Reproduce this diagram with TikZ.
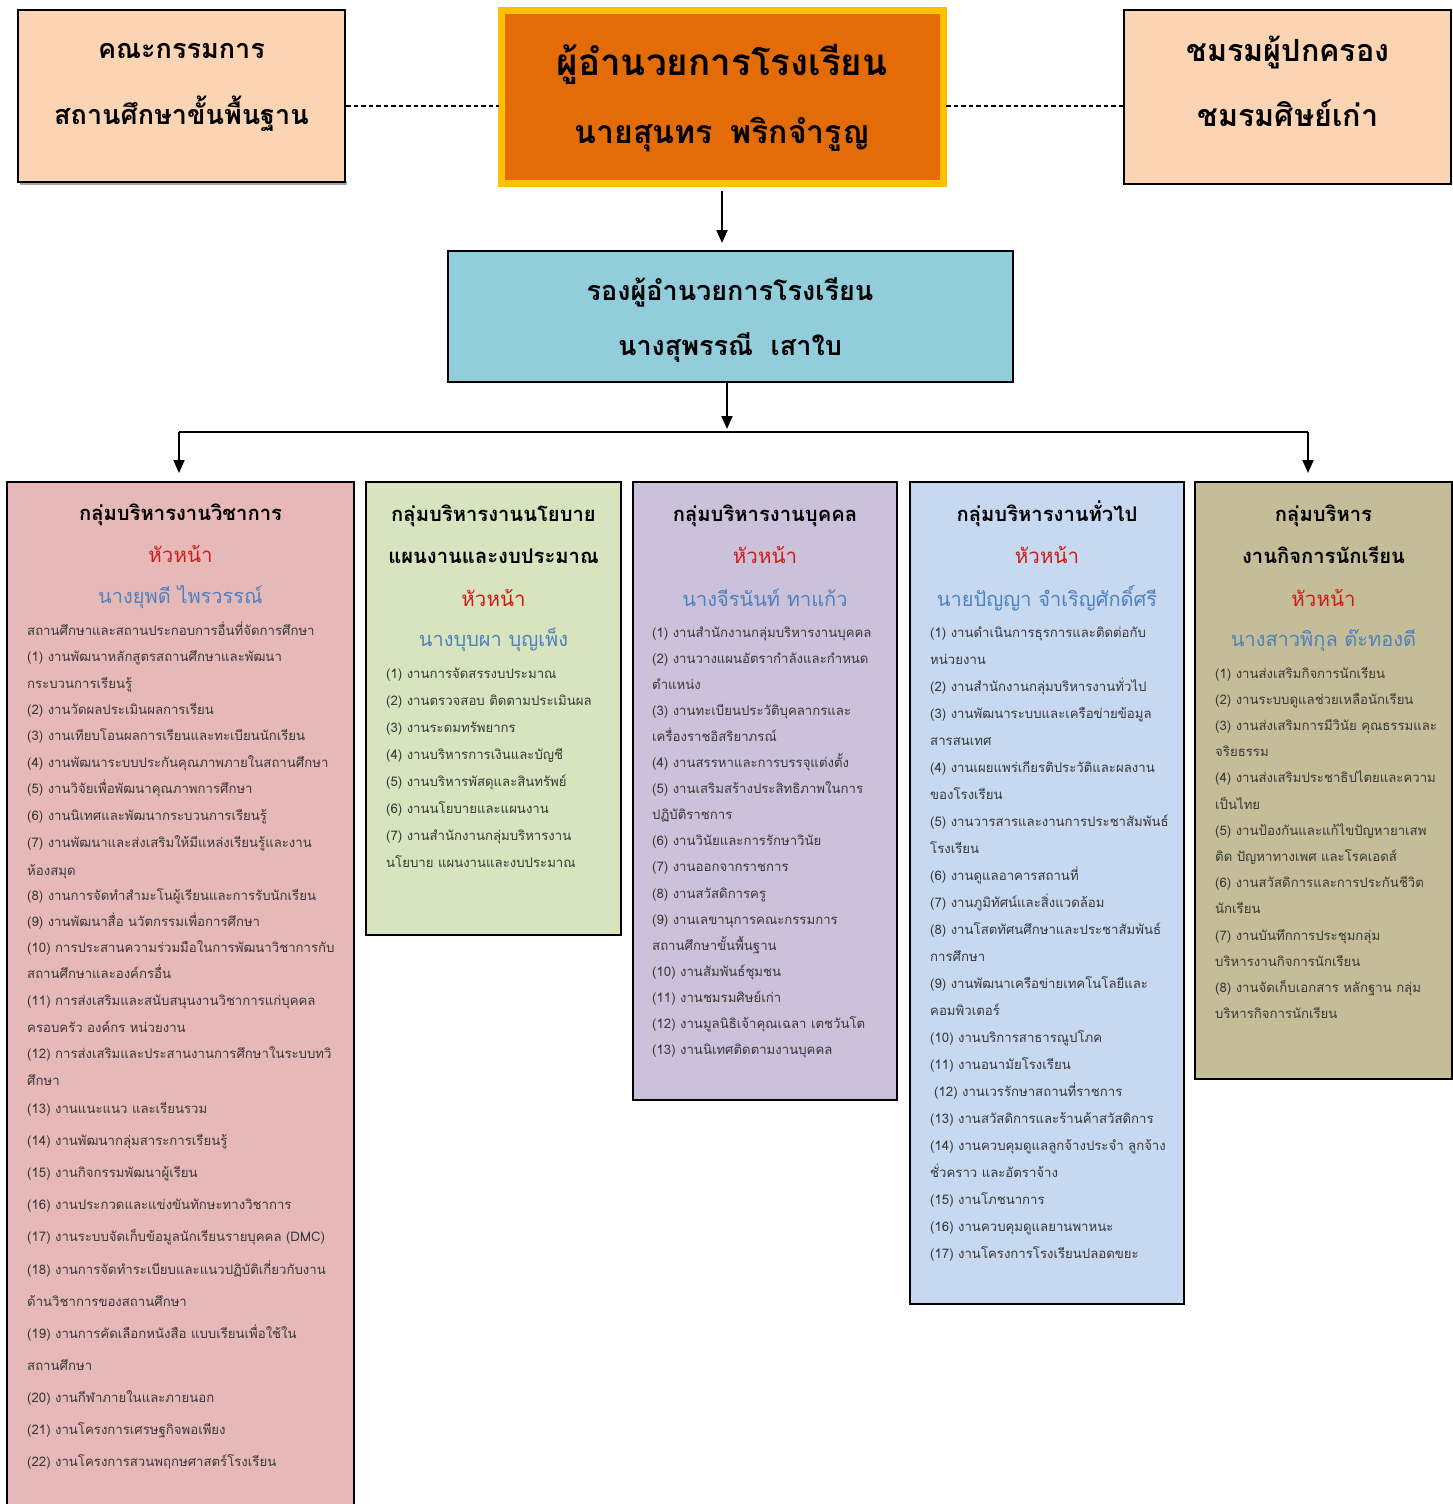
\documentclass[tikz,border=0pt]{standalone}
\usepackage{fontspec}
\setmainfont[Script=Thai]{Loma}
\usetikzlibrary{arrows.meta}
\definecolor{peach}{HTML}{FBD4B4}
\definecolor{bossor}{HTML}{E36C09}
\definecolor{bossyl}{HTML}{FFC000}
\definecolor{depblue}{HTML}{92CDDC}
\definecolor{cA}{HTML}{E6B9B8}
\definecolor{cB}{HTML}{D7E4BD}
\definecolor{cC}{HTML}{CCC1DA}
\definecolor{cD}{HTML}{C6D9F1}
\definecolor{cE}{HTML}{C4BD97}
\definecolor{headred}{HTML}{D01A1A}
\definecolor{nameblue}{HTML}{4F81BD}
\definecolor{itemgrey}{HTML}{383838}
\begin{document}
\begin{tikzpicture}[x=1pt,y=-1pt,
  box/.style={draw=black, line width=1.6pt, inner sep=0pt},
  toptxt/.style={anchor=base, font=\fontsize{27}{32}\selectfont\bfseries, inner sep=0pt},
  toptxtR/.style={anchor=base, font=\fontsize{30.5}{34}\selectfont\bfseries, inner sep=0pt},
  bosstxt/.style={anchor=base, font=\fontsize{36.8}{40}\selectfont\bfseries, inner sep=0pt},
  bossname/.style={anchor=base, font=\fontsize{32}{36}\selectfont\bfseries, inner sep=0pt},
  deptxt/.style={anchor=base, font=\fontsize{27}{32}\selectfont\bfseries, inner sep=0pt},
  headtxt/.style={anchor=base, font=\fontsize{20.2}{24}\selectfont\bfseries, inner sep=0pt},
  chieftxt/.style={anchor=base, text=headred, font=\fontsize{20.5}{24}\selectfont, inner sep=0pt},
  nametxt/.style={anchor=base, text=nameblue, font=\fontsize{20}{24}\selectfont, inner sep=0pt},
  item/.style={anchor=base west, text=itemgrey, font=\fontsize{13.2}{15}\selectfont, inner sep=0pt},
  arr/.style={line width=2pt, -{Triangle[width=11pt,length=13pt]}},
  link/.style={line width=2pt, dash pattern=on 4.5pt off 3pt}
]
\useasboundingbox (0,0) rectangle (1453,1504);
\fill[white] (0,0) rectangle (1453,1504);

% ---------- top row ----------
\fill[gray!70] (20,181) rectangle (347,185);
\node[box, fill=peach, minimum width=327pt, minimum height=172pt] (board) at (181.5,96) {};
\node[box, draw=bossyl, line width=7.5pt, fill=bossor, minimum width=442pt, minimum height=173pt] (boss) at (722.5,97) {};
\node[box, fill=peach, minimum width=327pt, minimum height=174pt] (parents) at (1287.5,97) {};

\node[toptxt] (board1) at (181.5,59) {คณะกรรมการ};
\node[toptxt] (board2) at (181.5,124) {สถานศึกษาขั้นพื้นฐาน};
\node[bosstxt] (boss1) at (722,75) {ผู้อำนวยการโรงเรียน};
\node[bossname] (boss2) at (722,143) {นายสุนทร\hspace{0.55em}พริกจำรูญ};
\node[toptxtR] (par1) at (1288,62) {ชมรมผู้ปกครอง};
\node[toptxtR] (par2) at (1288,126) {ชมรมศิษย์เก่า};

\coordinate (dl1) at (346,106);
\coordinate (dl2) at (499,106);
\coordinate (dr1) at (946,106);
\coordinate (dr2) at (1123,106);
\draw[link] (dl1) -- (dl2);
\draw[link] (dr1) -- (dr2);

% ---------- deputy ----------
\node[box, fill=depblue, minimum width=565pt, minimum height=131pt] (dep) at (730.5,316.5) {};
\node[deptxt] (dep1) at (730,300) {รองผู้อำนวยการโรงเรียน};
\node[deptxt] (dep2) at (730,355) {นางสุพรรณี\hspace{0.65em}เสาใบ};

\coordinate (a1s) at (722,191);
\coordinate (a1e) at (722,243);
\draw[arr] (a1s) -- (a1e);
\coordinate (a2s) at (727,383);
\coordinate (a2e) at (727,429);
\draw[arr] (a2s) -- (a2e);

\coordinate (busL) at (179,432);
\coordinate (busR) at (1308,432);
\draw[line width=2pt] (busL) -- (busR);
\coordinate (busLe) at (179,473);
\coordinate (busRe) at (1308,473);
\draw[arr] (busL) -- (busLe);
\draw[arr] (busR) -- (busRe);

% ---------- group boxes ----------
\node[box, fill=cA, minimum width=347pt, minimum height=1040pt, anchor=north] (gA) at (180.5,481) {};
\node[box, fill=cB, minimum width=255pt, minimum height=453pt, anchor=north] (gB) at (493.5,481) {};
\node[box, fill=cC, minimum width=264pt, minimum height=618pt, anchor=north] (gC) at (765,481) {};
\node[box, fill=cD, minimum width=274pt, minimum height=822pt, anchor=north] (gD) at (1047,481) {};
\node[box, fill=cE, minimum width=257pt, minimum height=597pt, anchor=north] (gE) at (1323.5,481) {};

% group A
\node[headtxt] (hA) at (180.5,520) {กลุ่มบริหารงานวิชาการ};
\node[chieftxt] (cAh) at (180.5,562) {หัวหน้า};
\node[nametxt] (nA) at (180.5,603) {นางยุพดี ไพรวรรณ์};
\foreach \y/\t [count=\i] in {
630/สถานศึกษาและสถานประกอบการอื่นที่จัดการศึกษา,
656/(1) งานพัฒนาหลักสูตรสถานศึกษาและพัฒนา,
683/กระบวนการเรียนรู้,
709/(2) งานวัดผลประเมินผลการเรียน,
735/(3) งานเทียบโอนผลการเรียนและทะเบียนนักเรียน,
762/(4) งานพัฒนาระบบประกันคุณภาพภายในสถานศึกษา,
788/(5) งานวิจัยเพื่อพัฒนาคุณภาพการศึกษา,
815/(6) งานนิเทศและพัฒนากระบวนการเรียนรู้,
842/(7) งานพัฒนาและส่งเสริมให้มีแหล่งเรียนรู้และงาน,
870/ห้องสมุด,
895/(8) งานการจัดทำสำมะโนผู้เรียนและการรับนักเรียน,
921/(9) งานพัฒนาสื่อ นวัตกรรมเพื่อการศึกษา,
947/(10) การประสานความร่วมมือในการพัฒนาวิชาการกับ,
973/สถานศึกษาและองค์กรอื่น,
1000/(11) การส่งเสริมและสนับสนุนงานวิชาการแก่บุคคล,
1027/ครอบครัว องค์กร หน่วยงาน,
1053/(12) การส่งเสริมและประสานงานการศึกษาในระบบทวิ,
1080/ศึกษา,
1108/(13) งานแนะแนว และเรียนรวม,
1140/(14) งานพัฒนากลุ่มสาระการเรียนรู้,
1172/(15) งานกิจกรรมพัฒนาผู้เรียน,
1204/(16) งานประกวดและแข่งขันทักษะทางวิชาการ,
1236/(17) งานระบบจัดเก็บข้อมูลนักเรียนรายบุคคล (DMC),
1269/(18) งานการจัดทำระเบียบและแนวปฏิบัติเกี่ยวกับงาน,
1301/ด้านวิชาการของสถานศึกษา,
1333/(19) งานการคัดเลือกหนังสือ แบบเรียนเพื่อใช้ใน,
1365/สถานศึกษา,
1397/(20) งานกีฬาภายในและภายนอก,
1429/(21) งานโครงการเศรษฐกิจพอเพียง,
1461/(22) งานโครงการสวนพฤกษศาสตร์โรงเรียน}
  \node[item] (iA\i) at (27,\y+5) {\t};

% group B
\node[headtxt] (hB1) at (493.5,521) {กลุ่มบริหารงานนโยบาย};
\node[headtxt] (hB2) at (493.5,563) {แผนงานและงบประมาณ};
\node[chieftxt] (cBh) at (493.5,606) {หัวหน้า};
\node[nametxt] (nB) at (493.5,646) {นางบุบผา บุญเพ็ง};
\foreach \t [count=\i from 0] in {
(1) งานการจัดสรรงบประมาณ,
(2) งานตรวจสอบ ติดตามประเมินผล,
(3) งานระดมทรัพยากร,
(4) งานบริหารการเงินและบัญชี,
(5) งานบริหารพัสดุและสินทรัพย์,
(6) งานนโยบายและแผนงาน,
(7) งานสำนักงานกลุ่มบริหารงาน,
นโยบาย แผนงานและงบประมาณ}
  \node[item] (iB\i) at (386,678+27*\i) {\t};

% group C
\node[headtxt] (hC) at (765,521) {กลุ่มบริหารงานบุคคล};
\node[chieftxt] (cCh) at (765,563) {หัวหน้า};
\node[nametxt] (nC) at (765,606) {นางจีรนันท์ ทาแก้ว};
\foreach \t [count=\i from 0] in {
(1) งานสำนักงานกลุ่มบริหารงานบุคคล,
(2) งานวางแผนอัตรากำลังและกำหนด,
ตำแหน่ง,
(3) งานทะเบียนประวัติบุคลากรและ,
เครื่องราชอิสริยาภรณ์,
(4) งานสรรหาและการบรรจุแต่งตั้ง,
(5) งานเสริมสร้างประสิทธิภาพในการ,
ปฏิบัติราชการ,
(6) งานวินัยและการรักษาวินัย,
(7) งานออกจากราชการ,
(8) งานสวัสดิการครู,
(9) งานเลขานุการคณะกรรมการ,
สถานศึกษาขั้นพื้นฐาน,
(10) งานสัมพันธ์ชุมชน,
(11) งานชมรมศิษย์เก่า,
(12) งานมูลนิธิเจ้าคุณเฉลา เตชวันโต,
(13) งานนิเทศติดตามงานบุคคล}
  \node[item] (iC\i) at (652,637+26.1*\i) {\t};

% group D
\node[headtxt] (hD) at (1047,521) {กลุ่มบริหารงานทั่วไป};
\node[chieftxt] (cDh) at (1047,563) {หัวหน้า};
\node[nametxt] (nD) at (1047,606) {นายปัญญา จำเริญศักดิ์ศรี};
\foreach \t [count=\i from 0] in {
(1) งานดำเนินการธุรการและติดต่อกับ,
หน่วยงาน,
(2) งานสำนักงานกลุ่มบริหารงานทั่วไป,
(3) งานพัฒนาระบบและเครือข่ายข้อมูล,
สารสนเทศ,
(4) งานเผยแพร่เกียรติประวัติและผลงาน,
ของโรงเรียน,
(5) งานวารสารและงานการประชาสัมพันธ์,
โรงเรียน,
(6) งานดูแลอาคารสถานที่,
(7) งานภูมิทัศน์และสิ่งแวดล้อม,
(8) งานโสตทัศนศึกษาและประชาสัมพันธ์,
การศึกษา,
(9) งานพัฒนาเครือข่ายเทคโนโลยีและ,
คอมพิวเตอร์,
(10) งานบริการสาธารณูปโภค,
(11) งานอนามัยโรงเรียน,
\hspace{4pt}(12) งานเวรรักษาสถานที่ราชการ,
(13) งานสวัสดิการและร้านค้าสวัสดิการ,
(14) งานควบคุมดูแลลูกจ้างประจำ ลูกจ้าง,
ชั่วคราว และอัตราจ้าง,
(15) งานโภชนาการ,
(16) งานควบคุมดูแลยานพาหนะ,
(17) งานโครงการโรงเรียนปลอดขยะ}
  \node[item] (iD\i) at (930,637+27*\i) {\t};

% group E
\node[headtxt] (hE1) at (1323.5,521) {กลุ่มบริหาร};
\node[headtxt] (hE2) at (1323.5,563) {งานกิจการนักเรียน};
\node[chieftxt] (cEh) at (1323.5,606) {หัวหน้า};
\node[nametxt] (nE) at (1323.5,646) {นางสาวพิกุล ต๊ะทองดี};
\foreach \t [count=\i from 0] in {
(1) งานส่งเสริมกิจการนักเรียน,
(2) งานระบบดูแลช่วยเหลือนักเรียน,
(3) งานส่งเสริมการมีวินัย คุณธรรมและ,
จริยธรรม,
(4) งานส่งเสริมประชาธิปไตยและความ,
เป็นไทย,
(5) งานป้องกันและแก้ไขปัญหายาเสพ,
ติด ปัญหาทางเพศ และโรคเอดส์,
(6) งานสวัสดิการและการประกันชีวิต,
นักเรียน,
(7) งานบันทึกการประชุมกลุ่ม,
บริหารงานกิจการนักเรียน,
(8) งานจัดเก็บเอกสาร หลักฐาน กลุ่ม,
บริหารกิจการนักเรียน}
  \node[item] (iE\i) at (1215,678+26.2*\i) {\t};
\end{tikzpicture}
\end{document}
